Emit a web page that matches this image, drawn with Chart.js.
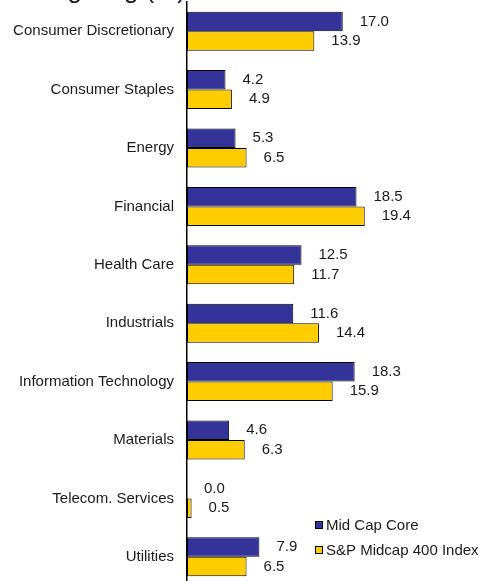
<!DOCTYPE html>
<html>
<head>
<meta charset="utf-8">
<script src="https://cdn.jsdelivr.net/npm/chart.js@4"></script>
<style>
    html, body { margin: 0; padding: 0; background: #fff; overflow: hidden; }
    #wrap { position: absolute; left: 0; top: 0; width: 482px; height: 590px; }
</style>
</head>
<body>
<div id="wrap"><canvas id="chart"></canvas></div>
<script>
// Donnees du graphique
const categories = ['Consumer Discretionary', 'Consumer Staples', 'Energy', 'Financial', 'Health Care',
    'Industrials', 'Information Technology', 'Materials', 'Telecom. Services', 'Utilities'];
const midCapCore = [17.0, 4.2, 5.3, 18.5, 12.5, 11.6, 18.3, 4.6, 0.0, 7.9];
const spMidcap400 = [13.9, 4.9, 6.5, 19.4, 11.7, 14.4, 15.9, 6.3, 0.5, 6.5];
const seriesNames = ['Mid Cap Core', 'S&P Midcap 400 Index'];
const titre = 'Sector Weighting (%)';

const couleurs = ['#333399', '#FFCC00'];
const police = '15px "Liberation Sans", Arial, sans-serif';

// Plugin pour les valeurs, le titre et la legende
const decorations = {
    id: 'decorations',
    afterDatasetsDraw(chart) {
        const ctx = chart.ctx;
        ctx.save();
        ctx.font = police;
        ctx.fillStyle = '#1a1a1a';
        ctx.textAlign = 'left';
        ctx.textBaseline = 'middle';
        chart.data.datasets.forEach((ds, i) => {
            chart.getDatasetMeta(i).data.forEach((bar, j) => {
                ctx.fillText(ds.data[j].toFixed(1), bar.x + 17, bar.y);
            });
        });

        // titre coupe en haut
        ctx.font = '26px "Liberation Sans", Arial, sans-serif';
        ctx.textAlign = 'right';
        ctx.textBaseline = 'alphabetic';
        ctx.fillText(titre, 186, -2);

        // legende
        ctx.font = police;
        ctx.textAlign = 'left';
        ctx.textBaseline = 'middle';
        seriesNames.forEach((nom, i) => {
            const y = 525 + i * 25;
            ctx.fillStyle = couleurs[i];
            ctx.fillRect(315, y - 4, 8, 8);
            ctx.strokeStyle = '#000';
            ctx.lineWidth = 1;
            ctx.strokeRect(315.5, y - 3.5, 7, 7);
            ctx.fillStyle = '#1a1a1a';
            ctx.fillText(nom, 326, y + 1);
        });
        ctx.restore();
    }
};

new Chart(document.getElementById('chart'), {
    type: 'bar',
    data: {
        labels: categories,
        datasets: [
            { label: seriesNames[0], data: midCapCore, backgroundColor: couleurs[0], borderColor: '#000', borderWidth: 1, borderSkipped: false },
            { label: seriesNames[1], data: spMidcap400, backgroundColor: couleurs[1], borderColor: '#000', borderWidth: 1, borderSkipped: false }
        ]
    },
    options: {
        indexAxis: 'y',
        responsive: true,
        maintainAspectRatio: false,
        animation: false,
        layout: { padding: { top: 2, bottom: 4, left: 0, right: 0 } },
        datasets: { bar: { categoryPercentage: 0.668, barPercentage: 1.0 } },
        plugins: {
            legend: { display: false },
            tooltip: { enabled: false }
        },
        scales: {
            x: {
                display: false,
                min: 0,
                max: 32.2
            },
            y: {
                grid: { display: false, drawTicks: false },
                border: { display: true, color: '#000', width: 1.5 },
                ticks: {
                    padding: 13,
                    color: '#1a1a1a',
                    font: { family: '"Liberation Sans", Arial, sans-serif', size: 15 }
                },
                afterFit(scale) {
                    scale.width = 187;
                    scale.paddingTop = 0;
                    scale.paddingBottom = 0;
                }
            }
        }
    },
    plugins: [decorations]
});
</script>
</body>
</html>
